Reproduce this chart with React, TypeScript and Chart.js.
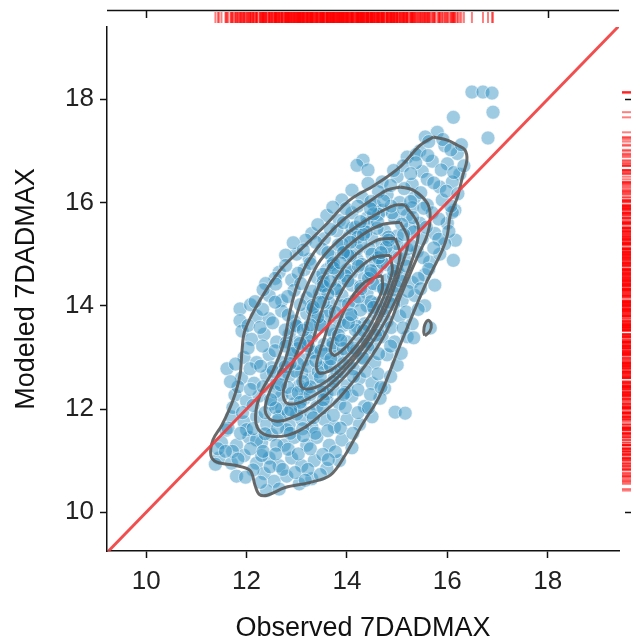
import React, { useEffect, useRef } from "react";
import { Chart, registerables } from "chart.js";

Chart.register(...registerables);

// Observed (x) vs Modeled (y) 7DADMAX
const points: [number, number][] = [
  [16.49, 18.14], [16.71, 18.14], [16.89, 18.12], [16.91, 17.75], [16.12, 17.65], [16.81, 17.25],
  [15.8, 17.36], [15.56, 17.27], [15.95, 17.1], [15.45, 17.0], [16.2, 16.95],
  [14.32, 16.82], [14.2, 16.72], [14.42, 16.63], [15.2, 16.88], [15.7, 16.8], [16.0, 16.75], [15.5, 16.6], [16.25, 16.55],
  [14.7, 16.4], [15.0, 16.5], [15.3, 16.35], [15.6, 16.45], [15.85, 16.3], [16.1, 16.4], [14.1, 16.24],
  [13.9, 16.05], [14.3, 16.1], [14.55, 15.95], [14.8, 16.15], [15.05, 16.0], [15.35, 16.1], [15.6, 15.95], [15.9, 16.05], [16.15, 15.85],
  [13.6, 15.75], [13.85, 15.65], [14.1, 15.8], [14.4, 15.7], [14.7, 15.85], [14.95, 15.7], [15.2, 15.75], [15.45, 15.6], [15.7, 15.8], [16.0, 15.6], [16.16, 15.27], [16.1, 15.81],
  [13.3, 15.4], [13.55, 15.3], [13.8, 15.45], [14.05, 15.35], [14.3, 15.5], [14.5, 15.3], [14.75, 15.45], [15.0, 15.35], [15.25, 15.5], [15.5, 15.3], [15.75, 15.4], [15.95, 15.2],
  [13.0, 15.0], [13.25, 14.9], [13.5, 15.1], [13.7, 14.95], [13.95, 15.05], [14.2, 14.9], [14.45, 15.1], [14.65, 14.95], [14.9, 15.05], [15.15, 14.9], [15.4, 15.05], [15.65, 14.85], [15.85, 15.0], [16.12, 14.88],
  [12.65, 14.65], [12.9, 14.5], [13.15, 14.7], [13.4, 14.55], [13.6, 14.7], [13.85, 14.5], [14.1, 14.65], [14.35, 14.55], [14.6, 14.7], [14.8, 14.5], [15.05, 14.6], [15.3, 14.45], [15.55, 14.6], [15.75, 14.4],
  [12.45, 14.2], [12.7, 14.1], [12.95, 14.3], [13.2, 14.15], [13.45, 14.25], [13.65, 14.05], [13.9, 14.2], [14.15, 14.1], [14.4, 14.25], [14.6, 14.05], [14.85, 14.2], [15.1, 14.1], [15.35, 14.2], [15.55, 14.0],
  [11.87, 13.94], [11.87, 13.71], [12.2, 13.8], [12.45, 13.75], [12.7, 13.9], [12.95, 13.7], [13.2, 13.85], [13.4, 13.75], [13.65, 13.9], [13.85, 13.7], [14.1, 13.8], [14.35, 13.65], [14.55, 13.85], [14.8, 13.7], [15.05, 13.8], [15.3, 13.65],
  [11.91, 13.51], [12.1, 13.35], [12.35, 13.45], [12.6, 13.3], [12.85, 13.45], [13.05, 13.3], [13.3, 13.4], [13.55, 13.25], [13.75, 13.45], [14.0, 13.3], [14.25, 13.4], [14.5, 13.25], [14.7, 13.4], [14.95, 13.3], [15.2, 13.4], [15.66, 13.57],
  [11.95, 13.0], [12.2, 12.9], [12.45, 13.05], [12.7, 12.9], [12.9, 13.05], [13.15, 12.95], [13.35, 13.1], [13.6, 12.9], [13.8, 13.05], [14.05, 12.85], [14.3, 13.0], [14.55, 12.9], [14.8, 13.05], [15.0, 12.85],
  [11.61, 12.78], [11.9, 12.6], [12.15, 12.5], [12.4, 12.65], [12.6, 12.5], [12.85, 12.65], [13.05, 12.45], [13.3, 12.6], [13.5, 12.45], [13.75, 12.6], [14.0, 12.45], [14.25, 12.6], [14.5, 12.5], [14.75, 12.4],
  [11.77, 12.27], [12.0, 12.15], [12.25, 12.25], [12.5, 12.1], [12.7, 12.25], [12.95, 12.1], [13.15, 12.2], [13.4, 12.05], [13.6, 12.2], [13.85, 12.1], [14.1, 12.25], [14.35, 12.05], [14.66, 12.21], [14.96, 11.94], [15.16, 11.92],
  [11.7, 11.85], [11.95, 11.75], [12.2, 11.85], [12.4, 11.7], [12.65, 11.85], [12.85, 11.7], [13.1, 11.8], [13.3, 11.65], [13.55, 11.8], [13.75, 11.65], [14.0, 11.8], [14.25, 11.7], [14.5, 11.85],
  [11.59, 11.59], [11.5, 11.35], [11.8, 11.3], [12.05, 11.45], [12.3, 11.35], [12.5, 11.5], [12.75, 11.3], [12.95, 11.45], [13.2, 11.3], [13.4, 11.45], [13.65, 11.3], [13.9, 11.4], [14.1, 11.25],
  [11.45, 11.05], [11.7, 10.95], [11.95, 11.1], [12.2, 10.95], [12.45, 11.05], [12.65, 10.9], [12.9, 11.05], [13.1, 10.9], [13.35, 11.0], [13.6, 10.85], [13.85, 11.0],
  [11.8, 10.7], [12.35, 10.75], [12.55, 10.6], [12.8, 10.7], [13.05, 10.55], [13.3, 10.65], [12.4, 10.42], [12.65, 10.45],
  [13.3, 13.1], [13.5, 13.6], [13.7, 13.2], [13.9, 14.0], [14.1, 14.4], [14.3, 14.8], [14.5, 15.0], [14.7, 15.2], [13.1, 12.7], [12.9, 12.3],
  [12.7, 12.0], [13.5, 12.8], [13.6, 13.8], [13.8, 14.3], [14.0, 14.7], [14.2, 15.1], [14.6, 14.4], [14.4, 14.0], [14.2, 13.6], [14.0, 13.1],
  [13.8, 12.7], [13.6, 12.3], [13.2, 12.4], [13.0, 11.9], [12.8, 11.6], [14.8, 14.8], [15.0, 15.2], [14.9, 14.3], [14.7, 13.9], [14.4, 13.3],
  [12.6, 11.3], [12.3, 11.1], [12.5, 12.8], [12.8, 13.3], [13.0, 13.6], [13.3, 14.0], [13.5, 14.4], [13.7, 14.8], [13.9, 15.2], [14.1, 15.5],
  [14.4, 15.6], [14.6, 15.5], [15.2, 15.1], [15.0, 14.7], [12.2, 11.4], [12.0, 11.6], [14.9, 15.8], [15.3, 15.9],
  [15.63, 17.18], [15.91, 17.22], [16.07, 17.02], [15.38, 16.93], [16.28, 17.12],
  [15.12, 16.71], [15.37, 16.77], [15.88, 16.63], [16.13, 16.58], [15.61, 16.91], [14.93, 16.62], [16.33, 16.71],
  [14.63, 16.21], [14.87, 16.33], [15.14, 16.27], [15.47, 16.19], [15.73, 16.38], [15.98, 16.22], [16.21, 16.17], [14.42, 16.37], [15.27, 16.56],
  [13.98, 15.88], [14.22, 15.93], [14.48, 16.02], [14.63, 15.77], [14.88, 15.93], [15.13, 15.87], [15.31, 15.71], [15.53, 15.89], [15.83, 15.68], [16.07, 15.93], [13.72, 15.91], [15.27, 16.02],
  [13.42, 15.57], [13.67, 15.48], [13.93, 15.61], [14.17, 15.52], [14.38, 15.43], [14.61, 15.62], [14.83, 15.33], [15.09, 15.58], [15.33, 15.43], [15.58, 15.52], [15.83, 15.29], [16.03, 15.44], [13.18, 15.27],
  [12.93, 15.22], [13.13, 15.08], [13.38, 15.23], [13.62, 15.03], [13.83, 15.18], [14.07, 14.97], [14.28, 15.21], [14.56, 14.87], [14.78, 15.13], [15.03, 14.93], [15.27, 15.17], [15.52, 14.93], [15.73, 15.12], [12.78, 14.98],
  [12.57, 14.53], [12.78, 14.78], [13.03, 14.63], [13.27, 14.82], [13.52, 14.61], [13.73, 14.83], [13.97, 14.58], [14.23, 14.77], [14.47, 14.62], [14.71, 14.83], [14.93, 14.57], [15.18, 14.77], [15.42, 14.53], [15.63, 14.71], [12.38, 14.43],
  [12.33, 14.31], [12.58, 14.42], [12.82, 14.18], [13.08, 14.43], [13.31, 14.28], [13.53, 14.47], [13.77, 14.33], [14.02, 14.48], [14.27, 14.37], [14.52, 14.43], [14.73, 14.32], [14.97, 14.38], [15.22, 14.28], [15.47, 14.33],
  [12.08, 14.02], [12.32, 13.93], [12.57, 14.07], [12.83, 13.82], [13.07, 14.02], [13.31, 13.93], [13.53, 14.07], [13.77, 13.87], [14.03, 14.03], [14.27, 13.92], [14.48, 14.08], [14.72, 13.94], [14.93, 14.03], [15.18, 13.88], [15.42, 13.93], [12.17, 14.08],
  [12.03, 13.62], [12.27, 13.58], [12.52, 13.67], [12.77, 13.53], [12.98, 13.62], [13.22, 13.57], [13.47, 13.63], [13.68, 13.53], [13.93, 13.62], [14.17, 13.53], [14.42, 13.62], [14.63, 13.53], [14.88, 13.58], [15.12, 13.57], [15.33, 13.38],
  [12.03, 13.18], [12.32, 13.22], [12.57, 13.13], [12.78, 13.22], [13.02, 13.17], [13.23, 13.22], [13.48, 13.13], [13.72, 13.28], [13.93, 13.17], [14.18, 13.13], [14.42, 13.18], [14.63, 13.07], [14.87, 13.22], [15.08, 13.08],
  [11.78, 12.87], [12.07, 12.78], [12.28, 12.83], [12.53, 12.73], [12.77, 12.82], [12.98, 12.73], [13.22, 12.83], [13.43, 12.72], [13.67, 12.83], [13.88, 12.72], [14.13, 12.78], [14.37, 12.73], [14.62, 12.68], [14.87, 12.63],
  [11.83, 12.43], [12.08, 12.38], [12.33, 12.43], [12.57, 12.33], [12.82, 12.42], [13.03, 12.32], [13.27, 12.43], [13.52, 12.33], [13.73, 12.38], [13.97, 12.32], [14.22, 12.37], [14.47, 12.28], [14.68, 12.42], [11.68, 12.53],
  [11.73, 12.03], [11.92, 11.93], [12.13, 12.07], [12.37, 11.93], [12.58, 12.02], [12.83, 11.92], [13.07, 12.03], [13.28, 11.93], [13.52, 12.02], [13.73, 11.88], [13.97, 12.03], [14.22, 11.93], [14.43, 12.02],
  [11.63, 11.63], [11.88, 11.53], [12.13, 11.62], [12.37, 11.52], [12.62, 11.63], [12.87, 11.53], [13.12, 11.62], [13.37, 11.53], [13.62, 11.58], [13.87, 11.63], [14.12, 11.53], [11.43, 11.23], [11.72, 11.18],
  [11.58, 11.18], [11.83, 11.03], [12.08, 11.23], [12.33, 11.18], [12.58, 11.13], [12.83, 11.22], [13.03, 11.13], [13.27, 11.23], [13.52, 11.12], [13.77, 11.17], [13.63, 11.02], [11.38, 10.93],
  [12.13, 10.82], [12.47, 10.88], [12.72, 10.83], [12.97, 10.77], [13.22, 10.83], [13.47, 10.73], [11.98, 10.68], [12.28, 10.58], [13.17, 10.62],
  [13.12, 12.53], [13.38, 12.93], [13.58, 13.07], [13.83, 13.43], [14.03, 13.67], [14.23, 14.17], [14.43, 14.53], [14.63, 14.93], [14.83, 15.27], [13.07, 12.13],
  [13.27, 12.28], [13.47, 12.62], [13.68, 12.97], [13.88, 13.33], [14.08, 13.83], [14.28, 14.33], [14.48, 14.68], [14.68, 15.03], [12.88, 11.98], [12.62, 11.78],
  [13.02, 12.88], [13.22, 13.33], [13.42, 13.78], [13.62, 14.23], [13.82, 14.63], [14.02, 14.98], [14.22, 15.33], [14.53, 15.78], [14.73, 16.03], [12.73, 12.68],
  [12.93, 13.08], [13.13, 13.53], [13.33, 13.97], [13.53, 14.38], [13.73, 14.73], [13.93, 15.03], [14.33, 15.38], [15.13, 15.38], [14.93, 14.68], [14.73, 14.33],
  [14.53, 13.97], [14.33, 13.52], [14.13, 13.18], [13.93, 12.88], [13.73, 12.53], [13.53, 12.18], [13.33, 11.83], [13.13, 11.48], [15.07, 14.48], [14.83, 14.07],
  [14.57, 13.43], [14.33, 12.98], [14.13, 12.63], [13.93, 12.28], [12.48, 12.18], [12.68, 12.47], [12.87, 12.88], [13.07, 13.27], [13.27, 13.63], [13.47, 14.07],
  [13.67, 14.47], [13.87, 14.83], [14.07, 15.23], [14.27, 15.63], [14.47, 15.88],
];

// KDE contour levels (outer to inner)
const contour1: [number, number][] = [
  [15.72, 17.27], [16.0, 17.21], [16.2, 17.11], [16.35, 17.02], [16.39, 16.82], [16.31, 16.53], [16.2, 16.1], [16.06, 15.76],
  [16.0, 15.37], [15.9, 15.08], [15.56, 14.4], [15.06, 13.24], [14.66, 12.27], [14.3, 11.69], [13.96, 11.1], [13.67, 10.72],
  [13.27, 10.58], [12.77, 10.48], [12.41, 10.33], [12.25, 10.35], [12.17, 10.52], [12.07, 10.81], [11.77, 10.91], [11.41, 10.97],
  [11.29, 11.1], [11.33, 11.4], [11.51, 11.69], [11.73, 12.17], [11.87, 12.66], [11.91, 13.14], [11.97, 13.53], [12.27, 14.11],
  [12.67, 14.69], [13.07, 15.08], [13.57, 15.56], [14.06, 16.05], [14.56, 16.34], [15.06, 16.69], [15.46, 17.11], [15.72, 17.27],
];
const contour2: [number, number][] = [
  [15.06, 16.3], [15.32, 16.24], [15.6, 15.99], [15.66, 15.72], [15.6, 15.37], [15.4, 14.94], [15.06, 14.17], [14.8, 13.53],
  [14.4, 12.89], [13.86, 12.23], [13.47, 11.88], [13.17, 11.65], [12.81, 11.49], [12.41, 11.49], [12.21, 11.65], [12.19, 11.98],
  [12.31, 12.36], [12.53, 12.75], [12.73, 13.24], [12.87, 13.91], [13.01, 14.4], [13.21, 14.83], [13.53, 15.27], [13.92, 15.66],
  [14.4, 15.99], [14.8, 16.24], [15.06, 16.3],
];
const contour3: [number, number][] = [
  [15.16, 15.95], [15.42, 15.56], [15.36, 15.08], [15.06, 14.3], [14.66, 13.53], [14.16, 12.85], [13.47, 12.17], [12.87, 11.82],
  [12.51, 11.78], [12.37, 11.98], [12.47, 12.36], [12.77, 12.95], [12.97, 13.72], [13.17, 14.3], [13.47, 14.88], [13.96, 15.37],
  [14.56, 15.76], [14.96, 15.95], [15.16, 15.95],
];
const contour4: [number, number][] = [
  [15.06, 15.62], [15.22, 15.27], [15.06, 14.69], [14.76, 13.91], [14.36, 13.24], [13.76, 12.56], [13.17, 12.17], [12.81, 12.11],
  [12.73, 12.33], [12.91, 12.85], [13.17, 13.53], [13.37, 14.21], [13.67, 14.79], [14.16, 15.27], [14.66, 15.56], [15.06, 15.62],
];
const contour5: [number, number][] = [
  [14.96, 15.31], [15.06, 14.98], [14.86, 14.3], [14.5, 13.53], [14.02, 12.91], [13.47, 12.46], [13.13, 12.4], [13.07, 12.6],
  [13.27, 13.14], [13.47, 13.82], [13.71, 14.4], [14.1, 14.92], [14.6, 15.27], [14.96, 15.31],
];
const contour6: [number, number][] = [
  [14.86, 14.98], [14.9, 14.65], [14.66, 14.01], [14.3, 13.37], [13.82, 12.85], [13.47, 12.69], [13.39, 12.85], [13.57, 13.43],
  [13.76, 14.01], [14.06, 14.53], [14.5, 14.92], [14.86, 14.98],
];
const contour7: [number, number][] = [
  [14.7, 14.59], [14.7, 14.3], [14.46, 13.82], [14.06, 13.29], [13.76, 13.04], [13.67, 13.14], [13.82, 13.62], [14.06, 14.11],
  [14.36, 14.46], [14.7, 14.59],
];
const contourIsland: [number, number][] = [
  [15.55, 13.42], [15.65, 13.5], [15.68, 13.64], [15.62, 13.72], [15.55, 13.63], [15.53, 13.5], [15.55, 13.42],
];

const identityLine: [number, number][] = [[8, 8], [21, 21]];
const tickValues = [10, 12, 14, 16, 18];
const axisMin = { x: 9.22, y: 9.25 };
const axisMax = { x: 19.42, y: 19.4 };

const toXY = (arr: [number, number][]) => arr.map(([x, y]) => ({ x, y }));

const FONT = "'Liberation Sans', Arial, Helvetica, sans-serif";

const rugPlugin = {
  id: "rugs",
  afterDraw(chart: any) {
    const ctx = chart.ctx;
    const xs = chart.scales.x;
    const ys = chart.scales.y;
    const area = chart.chartArea;
    ctx.save();
    // rugs
    ctx.strokeStyle = "rgba(255,0,0,0.5)";
    ctx.lineWidth = 2;
    for (const [ox, my] of points) {
      const px = xs.getPixelForValue(ox);
      ctx.beginPath();
      ctx.moveTo(px, 12);
      ctx.lineTo(px, 23);
      ctx.stroke();
      const py = ys.getPixelForValue(my);
      ctx.beginPath();
      ctx.moveTo(622, py);
      ctx.lineTo(632, py);
      ctx.stroke();
    }
    // top marginal axis line + ticks
    ctx.strokeStyle = "#111";
    ctx.lineWidth = 1.5;
    ctx.beginPath();
    ctx.moveTo(area.left, 10.5);
    ctx.lineTo(area.right, 10.5);
    ctx.stroke();
    for (const v of [10, 18]) {
      const px = Math.round(xs.getPixelForValue(v)) + 0.5;
      ctx.beginPath();
      ctx.moveTo(px, 10.5);
      ctx.lineTo(px, 18);
      ctx.stroke();
    }
    // right marginal ticks
    for (const v of [10, 18]) {
      const py = Math.round(ys.getPixelForValue(v)) + 0.5;
      ctx.beginPath();
      ctx.moveTo(625, py);
      ctx.lineTo(631, py);
      ctx.stroke();
    }
    ctx.restore();
  },
};

export default function App() {
  const ref = useRef<HTMLCanvasElement>(null);
  useEffect(() => {
    if (!ref.current) return;
    const contourDs = (arr: [number, number][]) => ({
      type: "scatter" as const,
      data: toXY(arr),
      showLine: true,
      borderColor: "rgba(90,90,90,0.9)",
      borderWidth: 3,
      pointRadius: 0,
      tension: 0.35,
      fill: false,
      order: 1,
    });
    const chart = new Chart(ref.current, {
      type: "scatter",
      data: {
        datasets: [
          {
            type: "scatter",
            data: toXY(identityLine),
            showLine: true,
            borderColor: "rgba(240,60,60,0.9)",
            borderWidth: 3,
            pointRadius: 0,
            order: 0,
          } as any,
          contourDs(contour1),
          contourDs(contour2),
          contourDs(contour3),
          contourDs(contour4),
          contourDs(contour5),
          contourDs(contour6),
          contourDs(contour7),
          contourDs(contourIsland),
          {
            type: "scatter",
            data: toXY(points),
            backgroundColor: "rgba(40,140,190,0.45)",
            borderColor: "rgba(255,255,255,0.55)",
            borderWidth: 1,
            pointRadius: 7,
            order: 2,
          },
        ],
      },
      options: {
        responsive: false,
        animation: false,
        layout: { padding: { top: 27, right: 12, left: 0, bottom: 0 } },
        plugins: { legend: { display: false }, tooltip: { enabled: false } },
        scales: {
          x: {
            type: "linear",
            min: axisMin.x,
            max: axisMax.x,
            afterBuildTicks: (s: any) => {
              s.ticks = tickValues.map((v) => ({ value: v }));
            },
            afterFit: (s: any) => {
              s.height = 91;
            },
            grid: { display: true, drawOnChartArea: false, drawTicks: true, tickLength: 7, tickWidth: 1.5, tickColor: "#111" },
            border: { display: true, color: "#111", width: 1.5 },
            ticks: { color: "#222", font: { family: FONT, size: 26 }, padding: 8, maxRotation: 0 },
            title: { display: true, text: "Observed 7DADMAX", color: "#111", font: { family: FONT, size: 27, lineHeight: 1.0 }, padding: { top: 0, bottom: 0 } },
          },
          y: {
            type: "linear",
            min: axisMin.y,
            max: axisMax.y,
            afterBuildTicks: (s: any) => {
              s.ticks = tickValues.map((v) => ({ value: v }));
            },
            afterFit: (s: any) => {
              s.width = 107;
            },
            grid: { display: true, drawOnChartArea: false, drawTicks: true, tickLength: 7, tickWidth: 1.5, tickColor: "#111" },
            border: { display: true, color: "#111", width: 1.5 },
            ticks: { color: "#222", font: { family: FONT, size: 26 }, padding: 6 },
            title: { display: true, text: "Modeled 7DADMAX", color: "#111", font: { family: FONT, size: 27 }, padding: { top: 10, bottom: 0 } },
          },
        },
      },
      plugins: [rugPlugin],
    } as any);
    return () => chart.destroy();
  }, []);
  return (
    <div style={{ position: "absolute", left: 0, top: 0, width: 631, height: 642, background: "#fff" }}>
      <canvas ref={ref} width={631} height={642} style={{ display: "block" }} />
    </div>
  );
}
